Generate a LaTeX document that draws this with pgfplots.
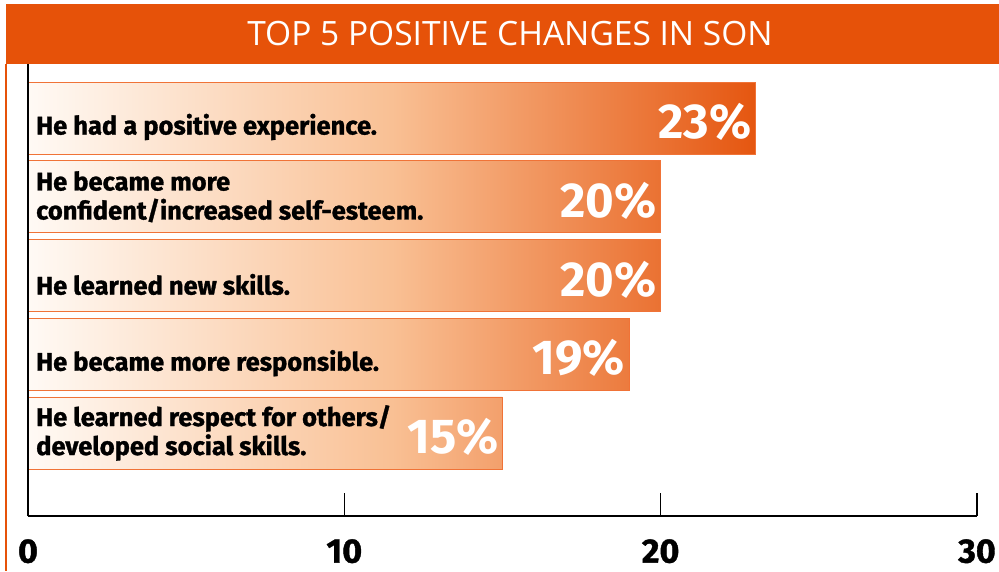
\documentclass[border=0pt]{standalone}
\usepackage{pgfplots}
\pgfplotsset{compat=1.18}
\usepackage{fontspec}
\setmainfont{Fira Sans}
\newfontfamily\titlefont{Open Sans}
\newfontfamily\labelfont{Fira Sans}[BoldFeatures={FakeBold=1.2}]
\definecolor{banner}{RGB}{230,82,9}
\definecolor{barL}{RGB}{255,250,245}
\definecolor{barM}{RGB}{249,192,148}
\definecolor{barR}{RGB}{229,86,16}
\definecolor{barE}{RGB}{240,115,55}
\newcommand{\low}[1]{\raisebox{-9pt}[\height][\depth]{#1}}
\begin{document}
\begin{tikzpicture}
\begin{axis}[
  scale only axis,
  width=949pt, height=452pt,
  xmin=0, xmax=30, ymin=-0.055, ymax=5.686,
  axis lines*=left,
  axis on top,
  axis line style={line width=1.8pt, black},
  xtick={0,10,20,30},
  tick align=inside,
  major tick length=23pt,
  xtick style={line width=1.6pt, black},
  ytick={1,2,3,4,5},
  yticklabels={{He learned respect for others/\\developed social skills.},
               {\low{He became more responsible.}},
               {\low{He learned new skills.}},
               {He became more\\confident/increased self-esteem.},
               {\low{He had a positive experience.}}},
  ytick style={draw=none},
  yticklabel style={anchor=west, align=left, xshift=31pt, inner sep=0pt, font=\labelfont\bfseries\fontsize{25.5}{29}\selectfont},
  xticklabel style={font=\labelfont\bfseries\fontsize{34}{38}\selectfont, yshift=-23pt, inner sep=0pt},
  /pgf/number format/assume math mode=true,
  xbar, bar width=72pt,
  nodes near coords={\pgfmathprintnumber{\pgfplotspointmeta}\%},
  every node near coord/.append style={anchor=east, xshift=-4pt, yshift=-4pt, text=white, font=\bfseries\fontsize{49}{52}\selectfont, inner sep=0pt},
  clip=false
]
\fill[banner] (rel axis cs:-0.0232,1.1327) rectangle (rel axis cs:1.0232,1.0);
\draw[banner, line width=1.5pt] (rel axis cs:-0.0232,1.0) -- (rel axis cs:-0.0232,-0.1217);
\node[text=white, font=\titlefont\fontsize{33.5}{38}\selectfont] at (rel axis cs:0.5079,1.0664) {TOP 5 POSITIVE CHANGES IN SON};
\coordinate (BL) at (rel axis cs:-0.0295,-0.1217);
\coordinate (TR) at (rel axis cs:1.0232,1.1416);
\addplot[draw=barE, line width=0.8pt, left color=barL, right color=barR, middle color=barM] coordinates {(15,1) (19,2) (20,3) (20,4) (23,5)};
\end{axis}
\pgfresetboundingbox
\path[use as bounding box] (BL) rectangle (TR);
\end{tikzpicture}
\end{document}
